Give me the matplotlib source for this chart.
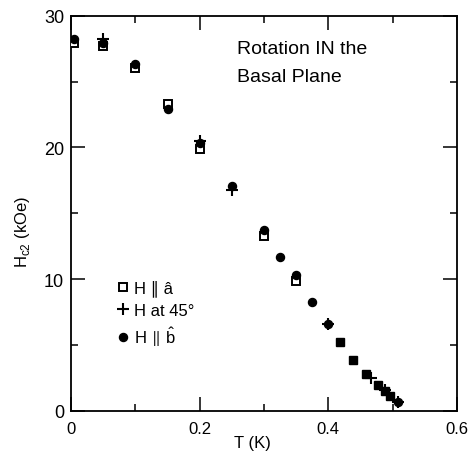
import matplotlib.pyplot as plt
import numpy as np
from matplotlib.lines import Line2D

# H || a (open squares)
T_a = [0.005, 0.05, 0.10, 0.15, 0.20, 0.30, 0.35]
H_a = [27.9, 27.7, 26.0, 23.3, 19.9, 13.3, 9.9]

# H at 45 deg (crosses)
T_45 = [0.05, 0.20, 0.25, 0.40, 0.467, 0.488, 0.508]
H_45 = [28.2, 20.5, 16.8, 6.6, 2.5, 1.6, 0.7]

# H || b (filled circles)
T_b = [0.005, 0.05, 0.10, 0.15, 0.20, 0.25, 0.30, 0.325, 0.35, 0.375, 0.40, 0.508]
H_b = [28.2, 27.9, 26.3, 22.9, 20.3, 17.1, 13.7, 11.7, 10.3, 8.25, 6.6, 0.65]

# points where a and b coincide (appear as filled squares)
T_ab = [0.418, 0.438, 0.458, 0.478, 0.488, 0.496]
H_ab = [5.2, 3.9, 2.8, 2.0, 1.5, 1.16]

plt.rcParams['font.family'] = ['Liberation Sans', 'DejaVu Sans']
plt.rcParams['mathtext.fontset'] = 'custom'
plt.rcParams['mathtext.rm'] = 'Liberation Sans'
plt.rcParams['mathtext.fallback'] = 'stixsans'

fig = plt.figure(figsize=(4.74, 4.56), dpi=100)
ax = fig.add_axes([0.150, 0.0965, 0.814, 0.867])

ax.plot(T_a, H_a, 's', ms=5.3, mfc='white', mec='black', mew=1.4, zorder=3)
ax.plot(T_b, H_b, 'o', ms=5.8, color='black', zorder=4)
ax.plot(T_ab, H_ab, 's', ms=5.5, color='black', zorder=4)
ax.plot(T_45, H_45, '+', ms=8, mew=1.5, color='black', zorder=5)

ax.set_xlim(0, 0.6)
ax.set_ylim(0, 30)
ax.set_xticks([0, 0.2, 0.4, 0.6])
ax.set_xticklabels(['0', '0.2', '0.4', '0.6'])
ax.set_yticks([0, 10, 20, 30])
ax.set_xticks(np.arange(0, 0.61, 0.1), minor=True)
ax.set_yticks(np.arange(0, 31, 5), minor=True)
ax.tick_params(which='both', direction='in', top=True, right=True, width=1.1)
ax.tick_params(which='major', length=10)
ax.tick_params(which='minor', length=5)
ax.tick_params(axis='x', labelsize=12, pad=7)
ax.tick_params(axis='y', labelsize=13, pad=5)
for s in ax.spines.values():
    s.set_linewidth(1.3)

ax.set_xlabel('T (K)', fontsize=12, va='top')
ax.xaxis.set_label_coords(0.47, -0.061)
ax.set_ylabel(r'H$_{\rm c2}$ (kOe)', fontsize=12)
ax.yaxis.set_label_coords(-0.101, 0.456)

ax.text(0.43, 0.906, 'Rotation IN the', transform=ax.transAxes,
        fontsize=14, va='baseline', ha='left')
ax.text(0.43, 0.835, 'Basal Plane', transform=ax.transAxes,
        fontsize=14, va='baseline', ha='left')

handles = [
    Line2D([], [], ls='', marker='s', ms=5.3, mfc='white', mec='black', mew=1.4),
    Line2D([], [], ls='', marker='+', ms=8, mew=1.5, color='black'),
    Line2D([], [], ls='', marker='o', ms=5.8, color='black'),
]
labels = ['H ∥ â', 'H at 45°', r'H $\!\parallel\!$ $\hat{\rm b}$']
ax.legend(handles, labels, loc='center left', bbox_to_anchor=(0.119, 0.246),
          frameon=False, fontsize=12, handlelength=0.7, handletextpad=0.3,
          labelspacing=0.4, borderpad=0, borderaxespad=0)

fig.savefig('out.png', dpi=100)
